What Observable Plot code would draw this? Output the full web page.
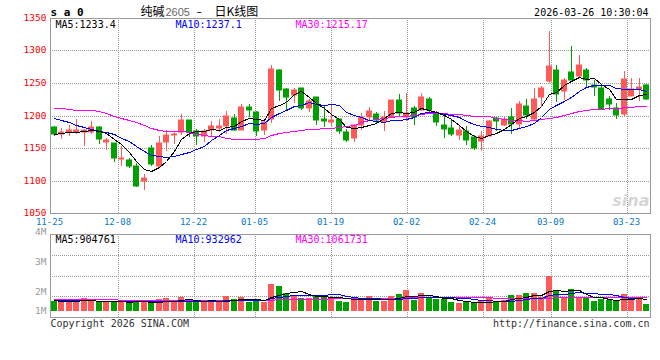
<!DOCTYPE html>
<html><head><meta charset="utf-8">
<script src="https://cdn.jsdelivr.net/npm/d3@7"></script>
<script src="https://cdn.jsdelivr.net/npm/@observablehq/plot@0.6"></script>
<style>
html,body{margin:0;padding:0;background:#fff;}
#wrap{position:relative;width:660px;height:360px;overflow:hidden;background:#fff;}
#wrap svg{position:absolute;left:0;top:0;background:transparent;}
</style></head><body><div id="wrap"></div>
<script>
// ---- data ----
const opens = [1182.8,1171.0,1174.1,1175.1,1174.1,1175.1,1182.8,1158.7,1158.2,1132.5,
1131.0,1122.8,1099.2,1150.5,1121.7,1158.7,1169.4,1174.1,1193.5,1176.1,
1168.5,1177.5,1181.2,1184.3,1196.6,1178.1,1213.5,1205.8,1177.1,1195.1,
1270.4,1241.2,1231.0,1242.8,1211.0,1228.9,1195.1,1189.4,1194.6,1175.1,
1164.8,1185.3,1197.6,1202.8,1189.4,1197.6,1223.8,1197.6,1211.5,1208.9,
1225.8,1203.8,1185.3,1181.2,1170.5,1175.6,1166.3,1160.2,1168.9,1195.6,
1184.8,1197.7,1187.4,1215.1,1194.6,1227.9,1253.6,1270.5,1237.1,1266.4,
1261.2,1270.5,1247.4,1242.3,1225.9,1211.5,1202.8,1230.5,1241.3,1247.4];
const highs = [1183.5,1180.7,1185.9,1194.6,1179.2,1192.0,1184.3,1164.8,1158.2,1152.5,
1135.1,1126.9,1110.5,1155.1,1167.9,1177.1,1176.6,1202.8,1193.5,1179.2,
1180.0,1191.0,1195.1,1207.4,1202.8,1218.1,1218.1,1206.8,1193.5,1278.1,
1272.0,1242.2,1242.2,1242.8,1225.3,1228.9,1216.6,1216.1,1194.6,1179.2,
1186.5,1203.8,1212.5,1205.9,1206.4,1224.5,1232.5,1234.6,1215.1,1234.6,
1228.4,1206.4,1198.7,1193.5,1185.3,1184.3,1170.5,1175.6,1193.5,1197.7,
1197.7,1211.5,1221.8,1225.4,1242.3,1244.8,1330.5,1278.2,1257.7,1306.4,
1293.6,1273.0,1255.1,1245.9,1230.5,1219.2,1267.9,1257.7,1257.7,1248.9];
const lows = [1167.9,1163.8,1167.9,1172.0,1153.5,1172.0,1155.6,1146.4,1128.9,1122.8,
1118.7,1089.4,1085.8,1121.7,1120.7,1144.8,1156.6,1170.0,1166.9,1155.1,
1159.5,1168.0,1174.0,1171.0,1175.6,1177.1,1197.6,1167.9,1170.5,1188.4,
1221.7,1208.9,1219.2,1207.9,1204.8,1184.8,1181.7,1184.3,1172.0,1159.7,
1158.7,1177.1,1191.0,1188.4,1175.6,1196.1,1197.6,1191.0,1185.8,1206.4,
1203.8,1183.3,1165.3,1169.0,1162.8,1155.1,1147.4,1144.8,1167.9,1175.6,
1184.3,1171.5,1179.7,1195.1,1193.6,1213.1,1250.0,1220.2,1223.3,1254.1,
1257.7,1242.3,1230.5,1207.9,1209.0,1194.6,1198.7,1229.5,1221.8,1223.3];
const closes = [1172.0,1175.1,1177.1,1177.1,1177.1,1182.8,1164.3,1162.8,1135.1,1134.0,
1122.8,1092.0,1103.3,1124.8,1157.1,1170.5,1171.0,1193.5,1175.1,1167.9,
1176.0,1184.3,1184.3,1199.7,1178.1,1213.5,1207.9,1175.6,1190.4,1272.0,
1238.7,1228.4,1239.7,1211.5,1222.8,1192.5,1191.0,1192.5,1175.6,1161.7,
1185.8,1197.6,1206.4,1193.5,1197.6,1223.8,1203.8,1203.8,1197.6,1228.4,
1207.9,1189.4,1179.7,1171.5,1178.1,1161.7,1149.4,1168.9,1192.0,1191.5,
1195.1,1187.4,1218.2,1201.3,1225.9,1242.3,1276.6,1233.5,1255.1,1255.1,
1278.2,1255.1,1243.3,1210.0,1217.7,1201.3,1256.1,1240.7,1243.8,1225.4];
const volumes = [769000,822000,743000,769000,981000,822000,716000,690000,769000,849000,
584000,822000,663000,584000,928000,1008000,663000,1088000,849000,663000,
663000,849000,663000,1167000,928000,1088000,716000,928000,716000,2122000,
1963000,1406000,1247000,1008000,1008000,1247000,1167000,1114000,769000,716000,
902000,981000,1167000,769000,769000,1167000,1326000,1645000,849000,1406000,
981000,928000,928000,663000,610000,663000,637000,769000,981000,769000,
849000,1247000,1247000,1406000,1406000,1061000,2759000,1645000,981000,1724000,
1088000,1088000,769000,928000,849000,769000,1326000,981000,981000,530000];
// moving-average values at the left edge (they depend on days before the window)
const ma5Head = [1171.0,1173.0,1174.6,1175.1];
const ma10Head = [1196.0,1192.5,1189.4,1185.8,1182.8,1179.7,1176.6,1174.0,1171.0];
const ma30Head = [1212.0,1211.0,1210.0,1209.2,1208.4,1207.9,1206.4,1204.0,1200.0,1196.0,
1193.0,1190.0,1185.0,1180.5,1177.5,1176.6,1176.3,1176.0,1174.5,1172.0,
1169.5,1168.4,1167.9,1165.5,1164.3,1164.3,1164.3,1164.3,1165.8];
const vma5Head = [850000,790000,760000,760000];
const vma10Head = [860000,850000,840000,830000,820000,820000,810000,800000,800000];
const vma30Head = [900000,900000,900000,900000,900000,900000,900000,900000,900000,
820000,820000,820000,820000,820000,820000,820000,820000,820000,820000,
820000,820000,820000,820000,820000,820000,820000,820000,820000,820000];
const xTickIdx = [0,9,19,27,37,47,57,66,76];
const xTickLabels = ["11-25","12-08","12-22","01-05","01-19","02-02","02-24","03-09","03-23"];
const yTicks = [1050,1100,1150,1200,1250,1300,1350];
const volTickLabels = ["4M","3M","2M","1M"];
const priceMaLabels = ["MA5:1233.4","MA10:1237.1","MA30:1215.17"];
const volMaLabels = ["MA5:904761","MA10:932962","MA30:1061731"];
const symbolText = "s a 0";
const titleName = "纯碱", titleCode = "2605", titleDash = "–", titleKind = "日K线图";
const timeText = "2026-03-26 10:30:04";
const footLeft = "Copyright 2026 SINA.COM", footRight = "http://finance.sina.com.cn";

// ---- derived ----
const N = closes.length;
const RED = "#ff5a5a", GREEN = "#00a000", BLUE = "#0a78c8";
const MA_COLORS = ["#000000", "#0000ff", "#ff00ff"];
const MONO = "DejaVu Sans Mono";
const candles = opens.map((o, i) => ({i, open: o, high: highs[i], low: lows[i], close: closes[i],
  vol: volumes[i], color: closes[i] >= o ? RED : GREEN}));
function movingAvg(vals, n, head) {
  return vals.map((v, i) => ({i, v: i < head.length ? head[i] : d3.mean(vals.slice(i - n + 1, i + 1))}));
}
const ma5 = movingAvg(closes, 5, ma5Head), ma10 = movingAvg(closes, 10, ma10Head), ma30 = movingAvg(closes, 30, ma30Head);
const vma5 = movingAvg(volumes, 5, vma5Head), vma10 = movingAvg(volumes, 10, vma10Head), vma30 = movingAvg(volumes, 30, vma30Head);
// sina spaces its date grid over N-1 intervals across the panel
const tickX = k => k * N / (N - 1) - 0.5;
const gridTicks = xTickIdx.filter(k => k > 0);
const grid = {stroke: "#999", strokeDasharray: "1,1"};

const wrap = document.getElementById("wrap");

// ---- price panel ----
const main = Plot.plot({
  width: 660, height: 360,
  marginLeft: 50, marginRight: 10, marginTop: 18, marginBottom: 147,
  x: {domain: [-0.5, N - 0.5], axis: null, round: true},
  y: {domain: [1050, 1350], axis: null, round: true},
  color: {type: "identity"},
  style: {background: "transparent", fontFamily: MONO, fontSize: "10px", overflow: "visible"},
  marks: [
    Plot.ruleY(yTicks.slice(1, -1), grid),
    Plot.ruleX(gridTicks, {x: tickX, ...grid}),
    Plot.text(["sina"], {frameAnchor: "bottom-right", textAnchor: "end", lineAnchor: "bottom", dx: -1, dy: -8,
      fill: "#d6d6d6", fontSize: 16, fontWeight: "bold", fontStyle: "italic", fontFamily: "DejaVu Sans"}),
    Plot.ruleX(candles, {x: "i", y1: "low", y2: "high", stroke: "color"}),
    Plot.rect(candles, {x1: d => d.i - 0.4, x2: d => d.i + 0.4,
      y1: d => Math.min(d.open, d.close), y2: d => Math.max(d.open, d.close),
      fill: "color", insetTop: -0.5, insetBottom: -0.5}),
    Plot.line(ma30, {x: "i", y: "v", stroke: MA_COLORS[2], strokeWidth: 1, shapeRendering: "crispEdges"}),
    Plot.line(ma10, {x: "i", y: "v", stroke: MA_COLORS[1], strokeWidth: 1, shapeRendering: "crispEdges"}),
    Plot.line(ma5, {x: "i", y: "v", stroke: MA_COLORS[0], strokeWidth: 1, shapeRendering: "crispEdges"}),
    Plot.frame({stroke: "#9a9a9a"}),
    Plot.text([priceMaLabels[0]], {frameAnchor: "top-left", textAnchor: "start", lineAnchor: "bottom", dx: 5, dy: 9, fill: MA_COLORS[0]}),
    Plot.text([priceMaLabels[1]], {frameAnchor: "top-left", textAnchor: "start", lineAnchor: "bottom", dx: 125, dy: 9, fill: MA_COLORS[1]}),
    Plot.text([priceMaLabels[2]], {frameAnchor: "top-left", textAnchor: "start", lineAnchor: "bottom", dx: 245, dy: 9, fill: MA_COLORS[2]}),
    Plot.text(yTicks, {y: d => d, text: d => String(d), frameAnchor: "left", textAnchor: "end", lineAnchor: "middle", dx: -4, dy: -1, fontSize: 9.5, fill: "#ff0000"}),
    Plot.text(xTickIdx, {x: tickX, text: (d, i) => xTickLabels[i], frameAnchor: "bottom", lineAnchor: "bottom", dy: 11, dx: -1, fontSize: 9, fill: BLUE}),
    Plot.text([symbolText], {frameAnchor: "top-left", textAnchor: "start", lineAnchor: "bottom", dx: 0, dy: -3, fontWeight: "bold", fontSize: 11, fill: "#000"}),
    Plot.text([titleName], {frameAnchor: "top-left", textAnchor: "start", lineAnchor: "bottom", dx: 90, dy: -3, fontFamily: "Noto Sans CJK SC", fontSize: 12, fill: "#000"}),
    Plot.text([titleCode], {frameAnchor: "top-left", textAnchor: "start", lineAnchor: "bottom", dx: 115, dy: -3, fontFamily: "Liberation Sans", fontSize: 11, fill: "#666"}),
    Plot.text([titleDash], {frameAnchor: "top-left", textAnchor: "start", lineAnchor: "bottom", dx: 146, dy: -4, fontFamily: "DejaVu Sans", fontSize: 11, fill: "#000"}),
    Plot.text([titleKind], {frameAnchor: "top-left", textAnchor: "start", lineAnchor: "bottom", dx: 164, dy: -3, fontFamily: "Noto Sans CJK SC", fontSize: 12, fill: "#000"}),
    Plot.text([timeText], {frameAnchor: "top-right", textAnchor: "end", lineAnchor: "bottom", dx: -2, dy: -3, fill: "#000"})
  ]
});
wrap.appendChild(main);

// ---- volume panel ----
const volDomain = [-500000, 6100000];
const volTop = 234, volBottom = 317;
const volPx = d3.scaleLinear(volDomain, [volBottom, volTop]);
const volLabelPx = [231, 261, 291, 310];
const volGrid = [0.25, 0.5, 0.75].map(q => volDomain[0] + q * (volDomain[1] - volDomain[0]));
const vol = Plot.plot({
  width: 660, height: 360,
  marginLeft: 50, marginRight: 10, marginTop: volTop, marginBottom: 360 - volBottom,
  x: {domain: [-0.5, N - 0.5], axis: null, round: true},
  y: {domain: volDomain, axis: null, round: true},
  color: {type: "identity"},
  style: {background: "transparent", fontFamily: MONO, fontSize: "10px", overflow: "visible"},
  marks: [
    Plot.ruleY(volGrid, grid),
    Plot.ruleX(gridTicks, {x: tickX, ...grid}),
    Plot.rect(candles, {x1: d => d.i - 0.4, x2: d => d.i + 0.4, y1: 0, y2: "vol", fill: "color"}),
    Plot.line(vma30, {x: "i", y: "v", stroke: MA_COLORS[2], strokeWidth: 1, shapeRendering: "crispEdges"}),
    Plot.line(vma10, {x: "i", y: "v", stroke: MA_COLORS[1], strokeWidth: 1, shapeRendering: "crispEdges"}),
    Plot.line(vma5, {x: "i", y: "v", stroke: MA_COLORS[0], strokeWidth: 1, shapeRendering: "crispEdges"}),
    Plot.frame({stroke: "#9a9a9a"}),
    Plot.text([volMaLabels[0]], {frameAnchor: "top-left", textAnchor: "start", lineAnchor: "bottom", dx: 5, dy: 8, fill: MA_COLORS[0]}),
    Plot.text([volMaLabels[1]], {frameAnchor: "top-left", textAnchor: "start", lineAnchor: "bottom", dx: 125, dy: 8, fill: MA_COLORS[1]}),
    Plot.text([volMaLabels[2]], {frameAnchor: "top-left", textAnchor: "start", lineAnchor: "bottom", dx: 245, dy: 8, fill: MA_COLORS[2]}),
    Plot.text(volTickLabels, {y: (d, i) => volPx.invert(volLabelPx[i]), text: d => d, frameAnchor: "left", textAnchor: "end", lineAnchor: "middle", dx: -4, fontSize: 9.5, fill: "#999"}),
    Plot.text([footLeft], {frameAnchor: "bottom-left", textAnchor: "start", lineAnchor: "bottom", dx: 0, dy: 9, fill: "#333"}),
    Plot.text([footRight], {frameAnchor: "bottom-right", textAnchor: "end", lineAnchor: "bottom", dx: -1, dy: 9, fill: "#333"})
  ]
});
wrap.appendChild(vol);
</script></body></html>
